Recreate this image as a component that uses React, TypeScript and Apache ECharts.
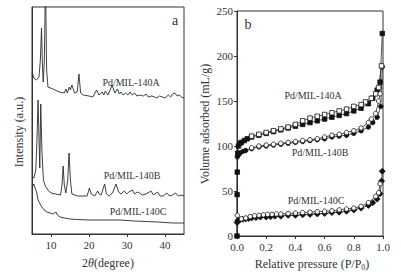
import React, { useEffect, useRef } from "react";
import * as echarts from "echarts";

// ---- Panel a: XRD (2θ in degrees, intensity in a.u.) ----
const xrdA: [number, number][] = [
  [5.0, 162], [5.5, 156], [6.2, 154], [6.85, 157], [7.2, 174], [7.5, 206], [7.75, 169], [7.95, 152],
  [8.25, 174], [8.55, 254], [8.85, 164], [9.2, 147], [10.5, 145], [12.2, 142], [13.5, 141], [13.9, 145],
  [14.3, 141], [14.8, 147], [15.1, 144], [15.5, 149], [16.2, 141], [16.9, 142], [17.35, 160], [17.8, 141],
  [18.5, 139], [20, 138], [21, 137], [22, 144], [22.6, 139], [23.5, 142], [23.9, 139], [24.3, 143],
  [25, 139], [26.1, 149], [26.8, 141], [27.5, 145], [28.0, 140], [28.4, 142], [29, 139], [29.6, 141],
  [30.2, 139], [30.8, 142], [31.4, 139], [32, 141], [32.6, 138], [33.5, 139], [34.3, 138], [35, 140],
  [35.6, 137], [36.5, 138], [37.3, 137], [37.9, 136], [38.5, 138], [39.3, 137], [40, 136], [40.9, 139],
  [41.5, 137], [42.0, 140], [42.6, 141], [43.2, 138], [43.8, 139], [44.3, 137], [45, 136],
];
const xrdB: [number, number][] = [
  [5.0, 57], [5.5, 56], [6.0, 64], [6.3, 94], [6.6, 134], [6.85, 94], [7.05, 66], [7.3, 130], [7.6, 84],
  [8.0, 54], [8.5, 48], [9.2, 44], [10, 41], [12.5, 39], [12.9, 49], [13.2, 68], [13.5, 49], [13.9, 41],
  [14.4, 54], [14.75, 81], [15.1, 54], [15.5, 40], [17, 38], [19.5, 38], [20.1, 46], [20.6, 40], [21.5, 38],
  [22.3, 43], [22.7, 40], [23.2, 39], [24.1, 50], [24.6, 40], [25.3, 38], [26.2, 41], [27.1, 50], [27.8, 42],
  [28.4, 40], [29.3, 43], [29.9, 40], [30.5, 42], [31.4, 44], [32, 40], [32.7, 42], [33.3, 41], [34, 39],
  [35, 40], [36.3, 43], [37, 39], [38, 42], [38.7, 38], [39.5, 38], [40.5, 41], [41.2, 38], [42, 39],
  [42.8, 41], [43.5, 38], [44.2, 39], [45, 38],
];
const xrdC: [number, number][] = [
  [5.0, 46], [5.3, 49], [5.5, 50], [5.8, 46], [6.2, 42], [6.6, 34], [7.0, 31], [7.6, 27], [8.2, 24],
  [8.9, 22], [9.8, 21], [10.6, 20], [11.3, 22], [11.7, 19], [12.4, 17], [13.5, 16], [15, 15], [17, 14.5],
  [20, 14], [22, 14], [25, 14], [28, 14], [30, 13.5], [32, 13], [35, 12.5], [38, 12], [40, 11.5], [42, 11], [45, 11],
];
const xrdTicks = [10, 20, 30, 40];

// ---- Panel b: N2 isotherms (P/P0, mL/g) ----
const aAds: [number, number][] = [
  [0.0, 0], [0.001, 46], [0.002, 71], [0.005, 92], [0.01, 100], [0.02, 103], [0.03, 104], [0.05, 106],
  [0.07, 108], [0.1, 110], [0.15, 112], [0.2, 114], [0.25, 116], [0.3, 118], [0.35, 120], [0.4, 122],
  [0.45, 124], [0.5, 126], [0.55, 128], [0.6, 130], [0.65, 132], [0.7, 134], [0.75, 136], [0.8, 139],
  [0.85, 142], [0.9, 147], [0.93, 153], [0.96, 162], [0.98, 171], [0.995, 225],
];
const aDes: [number, number][] = [
  [0.99, 189], [0.97, 165], [0.95, 158], [0.92, 153], [0.88, 149], [0.85, 146], [0.8, 144], [0.75, 141],
  [0.7, 139], [0.65, 137], [0.6, 135], [0.55, 133], [0.5, 131], [0.45, 128], [0.4, 124], [0.35, 121],
  [0.3, 119], [0.25, 117], [0.2, 115], [0.15, 113], [0.1, 111],
];
const bAds: [number, number][] = [
  [0.002, 88], [0.01, 90], [0.02, 92], [0.04, 94], [0.06, 95], [0.1, 97], [0.15, 99], [0.2, 100],
  [0.25, 101], [0.3, 102], [0.35, 103], [0.4, 104], [0.45, 105], [0.5, 106], [0.55, 107], [0.6, 108],
  [0.65, 110], [0.7, 111], [0.75, 112], [0.8, 114], [0.85, 117], [0.9, 121], [0.93, 126], [0.96, 132],
  [0.985, 144], [0.995, 188],
];
const bDes: [number, number][] = [
  [0.98, 158], [0.97, 150], [0.95, 136], [0.92, 130], [0.9, 126], [0.85, 120], [0.8, 117], [0.75, 115],
  [0.7, 113], [0.65, 112], [0.6, 110], [0.55, 108], [0.5, 107], [0.45, 106], [0.4, 105], [0.35, 104],
  [0.3, 103], [0.25, 102], [0.2, 101], [0.15, 100], [0.1, 98],
];
const cAds: [number, number][] = [
  [0.001, 15], [0.005, 17], [0.02, 18], [0.04, 18.5], [0.06, 19], [0.08, 19.5], [0.1, 20], [0.13, 20.5],
  [0.16, 21], [0.2, 21], [0.23, 21.5], [0.26, 22], [0.3, 22], [0.35, 23], [0.4, 23], [0.45, 23.5],
  [0.5, 24], [0.55, 24.5], [0.6, 25], [0.65, 26], [0.7, 26.5], [0.75, 27.5], [0.8, 29], [0.85, 31],
  [0.9, 34], [0.93, 37], [0.96, 41], [0.98, 47], [0.99, 61], [0.995, 72],
];
const cDes: [number, number][] = [
  [0.98, 58], [0.97, 48], [0.95, 44], [0.9, 37], [0.85, 33], [0.8, 31], [0.75, 30], [0.7, 29], [0.65, 28],
  [0.6, 27.5], [0.55, 27], [0.5, 26.5], [0.45, 26], [0.4, 25.5], [0.35, 25], [0.3, 24.5], [0.27, 24.5],
  [0.24, 24], [0.21, 24], [0.18, 23.5], [0.15, 23], [0.12, 22.5], [0.09, 21.5], [0.06, 20], [0.03, 19], [0.002, 23],
];

const FONT = "Liberation Serif";
const INK = "#333";
const LINE = "#2a2a2a";

const txt = (x: number, y: number, text: string, size: number, extra: any = {}) => ({
  type: "text",
  x,
  y,
  ...extra,
  style: {
    text,
    fontFamily: FONT,
    fontSize: size,
    fill: INK,
    align: "center",
    verticalAlign: "middle",
    ...(extra.style || {}),
  },
});

export default function App() {
  const ref = useRef<HTMLDivElement>(null);
  useEffect(() => {
    if (!ref.current) return;
    const chart = echarts.init(ref.current, null, { renderer: "svg" });
    const axisCommon = {
      axisLine: { show: true, lineStyle: { color: INK, width: 1 } },
      axisTick: { show: true, length: 3, lineStyle: { color: INK } },
      axisLabel: { color: INK, fontFamily: FONT, fontSize: 11 },
      splitLine: { show: false },
    };
    const iso = (data: [number, number][], symbol: string, filled: boolean) => ({
      type: "line",
      xAxisIndex: 1,
      yAxisIndex: 1,
      data,
      symbol,
      symbolSize: symbol === "diamond" ? 6 : 4.5,
      showSymbol: true,
      lineStyle: { color: LINE, width: 0.8 },
      itemStyle: { color: filled ? "#111" : "#fff", borderColor: "#111", borderWidth: 0.8 },
      z: filled ? 3 : 4,
    });
    const xrd = (data: [number, number][]) => ({
      type: "line",
      xAxisIndex: 0,
      yAxisIndex: 0,
      data,
      showSymbol: false,
      symbol: "none",
      clip: true,
      lineStyle: { color: LINE, width: 0.9 },
    });
    chart.setOption({
      animation: false,
      backgroundColor: "#fff",
      textStyle: { fontFamily: FONT },
      grid: [
        { left: 32, top: 7, width: 152, height: 227, show: true, borderColor: INK, borderWidth: 1, backgroundColor: "transparent" },
        { left: 237, top: 11, width: 146, height: 225, show: true, borderColor: INK, borderWidth: 1, backgroundColor: "transparent" },
      ],
      xAxis: [
        {
          ...axisCommon,
          gridIndex: 0,
          type: "value",
          min: 5,
          max: 45,
          axisTick: { ...axisCommon.axisTick, customValues: xrdTicks },
          axisLabel: { ...axisCommon.axisLabel, customValues: xrdTicks, margin: 5 },
        },
        {
          ...axisCommon,
          gridIndex: 1,
          type: "value",
          min: 0,
          max: 1,
          interval: 0.2,
          axisLabel: { ...axisCommon.axisLabel, margin: 5, formatter: (v: number) => v.toFixed(1) },
        },
      ],
      yAxis: [
        {
          gridIndex: 0,
          type: "value",
          min: 0,
          max: 227,
          axisLine: { show: true, lineStyle: { color: INK } },
          axisTick: { show: false },
          axisLabel: { show: false },
          splitLine: { show: false },
        },
        {
          ...axisCommon,
          gridIndex: 1,
          type: "value",
          min: 0,
          max: 250,
          interval: 50,
          axisLabel: { ...axisCommon.axisLabel, margin: 4 },
        },
      ],
      series: [
        xrd(xrdA),
        xrd(xrdB),
        xrd(xrdC),
        iso(aAds, "rect", true),
        iso(aDes, "rect", false),
        iso(bAds, "circle", true),
        iso(bDes, "circle", false),
        iso(cAds, "diamond", true),
        iso(cDes, "circle", false),
      ],
      graphic: [
        txt(175, 20, "a", 14),
        txt(131, 82, "Pd/MIL-140A", 10),
        txt(132, 175, "Pd/MIL-140B", 10),
        txt(138, 211, "Pd/MIL-140C", 10),
        txt(19, 132, "Intensity (a.u.)", 12, { rotation: Math.PI / 2 }),
        txt(108, 263, "2{i|θ}(degree)", 12, {
          style: { rich: { i: { fontStyle: "italic", fontFamily: FONT, fontSize: 12, fill: INK } } },
        }),
        txt(248, 24, "b", 14),
        txt(313, 95, "Pd/MIL-140A", 10),
        txt(320, 152, "Pd/MIL-140B", 10),
        txt(316, 200, "Pd/MIL-140C", 10),
        txt(205, 124, "Volume adsorbed (mL/g)", 12, { rotation: Math.PI / 2 }),
        txt(312, 264, "Relative pressure (P/P{s|0})", 12, {
          style: { rich: { s: { fontFamily: FONT, fontSize: 8, fill: INK, padding: [6, 0, 0, 0] } } },
        }),
      ],
    });
    return () => chart.dispose();
  }, []);
  return (
    <div
      ref={ref}
      style={{ position: "fixed", left: 0, top: 0, width: 401, height: 277, background: "#fff" }}
    />
  );
}
